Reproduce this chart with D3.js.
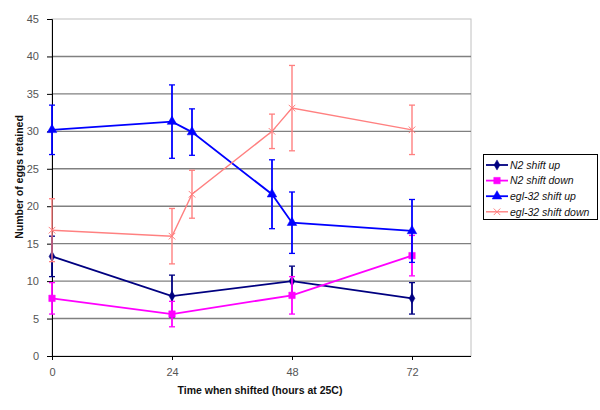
<!DOCTYPE html>
<html><head><meta charset="utf-8">
<script src="https://cdn.jsdelivr.net/npm/d3@7"></script>
<style>body{margin:0;background:#fff}svg{display:block;font-family:"Liberation Sans",Arial,sans-serif}</style>
</head><body><svg id="c" width="600" height="410"></svg>
<script>
const xTicks = [0, 24, 48, 72];
const yTicks = [0, 5, 10, 15, 20, 25, 30, 35, 40, 45];
const seriesNames = ["N2 shift up", "N2 shift down", "egl-32 shift up", "egl-32 shift down"];
const seriesColors = ["#000080", "#ff00ff", "#0000ff", "#ff8080"];
const seriesSymbols = ["diamond", "square", "triangle", "cross"];
// hours, value, error
const n2UpX = [0, 24, 48, 72];
const n2UpY = [13.3, 8.0, 10.0, 7.7];
const n2UpE = [2.7, 2.8, 2.0, 2.1];
const n2DownX = [0, 24, 48, 72];
const n2DownY = [7.7, 5.6, 8.1, 13.4];
const n2DownE = [2.1, 1.7, 2.5, 2.7];
const eglUpX = [0, 24, 28, 44, 48, 72];
const eglUpY = [30.2, 31.3, 29.9, 21.6, 17.8, 16.7];
const eglUpE = [3.3, 4.9, 3.1, 4.6, 4.1, 4.2];
const eglDownX = [0, 24, 28, 44, 48, 72];
const eglDownY = [16.8, 16.0, 21.6, 30.0, 33.1, 30.2];
const eglDownE = [4.2, 3.7, 3.2, 2.3, 5.7, 3.3];

const series = [
  {x: n2UpX, y: n2UpY, e: n2UpE},
  {x: n2DownX, y: n2DownY, e: n2DownE},
  {x: eglUpX, y: eglUpY, e: eglUpE},
  {x: eglDownX, y: eglDownY, e: eglDownE}
];

const svg = d3.select("#c");
const L = 52, R = 471, T = 19, B = 356;
const x = d3.scaleLinear().domain([0, 83.8]).range([L, R]);
const y = d3.scaleLinear().domain([0, 45]).range([B, T]);

// plot border (light)
svg.append("rect").attr("x", L).attr("y", T).attr("width", R - L).attr("height", B - T)
  .attr("fill", "none").attr("stroke", "#c0c0c0").attr("stroke-width", 1);

// gridlines
svg.append("g").selectAll("line").data(yTicks.filter(d => d > 0 && d < 45)).join("line")
  .attr("x1", L).attr("x2", R).attr("y1", d => y(d)).attr("y2", d => y(d))
  .attr("stroke", "#808080").attr("stroke-width", 1.4);

// axes
const yAxis = d3.axisLeft(y).tickValues(yTicks).tickSizeOuter(0).tickSize(5).tickPadding(8);
const gy = svg.append("g").attr("transform", `translate(${L},0)`).call(yAxis);
const xAxis = d3.axisBottom(x).tickValues(xTicks).tickSizeOuter(0).tickSize(4).tickPadding(8);
const gx = svg.append("g").attr("transform", `translate(0,${B})`).call(xAxis);
[gy, gx].forEach(g => {
  g.select(".domain").attr("stroke", "#000").attr("stroke-width", 1);
  g.selectAll(".tick line").attr("stroke", "#000");
  g.selectAll(".tick text").attr("fill", "#555").attr("font-size", 11).attr("font-family", "Liberation Sans, Arial, sans-serif");
});
gx.select(".domain").attr("d", `M${L},0.5H${R}`);

// titles
svg.append("text").attr("x", 260).attr("y", 394).attr("text-anchor", "middle")
  .attr("font-size", 10.5).attr("font-weight", "bold").attr("fill", "#111")
  .text("Time when shifted (hours at 25C)");
svg.append("text").attr("transform", "translate(23,177) rotate(-90)").attr("text-anchor", "middle")
  .attr("font-size", 10.5).attr("font-weight", "bold").attr("fill", "#111")
  .text("Number of eggs retained");

const symGen = {
  diamond: d3.symbol().type(d3.symbolDiamond).size(30),
  square: d3.symbol().type(d3.symbolSquare).size(42),
  triangle: d3.symbol().type(d3.symbolTriangle).size(40),
  cross: d3.symbol().type(d3.symbolX).size(30)
};
function drawMarker(g, sym, color, cx, cy) {
  const p = g.append("path").attr("d", symGen[sym]()).attr("transform", `translate(${cx},${cy})`);
  if (sym === "cross") p.attr("fill", "none").attr("stroke", color).attr("stroke-width", 1);
  else p.attr("fill", color).attr("stroke", color).attr("stroke-width", 0.5);
}

const line = d3.line().x(d => x(d[0])).y(d => y(d[1]));
series.forEach((s, i) => {
  const col = seriesColors[i];
  const g = svg.append("g");
  const pts = s.x.map((xv, j) => [xv, s.y[j], s.e[j]]);
  const lw = i === 3 ? 1.4 : 1.8;
  // error bars
  pts.forEach(p => {
    g.append("line").attr("x1", x(p[0])).attr("x2", x(p[0])).attr("y1", y(p[1] - p[2])).attr("y2", y(p[1] + p[2]))
      .attr("stroke", col).attr("stroke-width", lw);
    [p[1] - p[2], p[1] + p[2]].forEach(v => {
      g.append("line").attr("x1", x(p[0]) - 3).attr("x2", x(p[0]) + 3).attr("y1", y(v)).attr("y2", y(v))
        .attr("stroke", col).attr("stroke-width", 1.3);
    });
  });
  g.append("path").datum(pts).attr("d", line).attr("fill", "none").attr("stroke", col).attr("stroke-width", lw);
  pts.forEach(p => drawMarker(g, seriesSymbols[i], col, x(p[0]), y(p[1])));
});

// legend
const lg = svg.append("g");
lg.append("rect").attr("x", 483.5).attr("y", 154.5).attr("width", 114).attr("height", 65)
  .attr("fill", "#fff").attr("stroke", "#000").attr("stroke-width", 1);
seriesNames.forEach((n, i) => {
  const yy = 165 + i * 15.6;
  lg.append("line").attr("x1", 486).attr("x2", 508).attr("y1", yy).attr("y2", yy)
    .attr("stroke", seriesColors[i]).attr("stroke-width", i === 3 ? 1.4 : 1.8);
  drawMarker(lg, seriesSymbols[i], seriesColors[i], 497, yy);
  lg.append("text").attr("x", 510).attr("y", yy + 3.8).attr("font-size", 10.5).attr("font-style", "italic")
    .attr("fill", "#111").text(n);
});
</script></body></html>
